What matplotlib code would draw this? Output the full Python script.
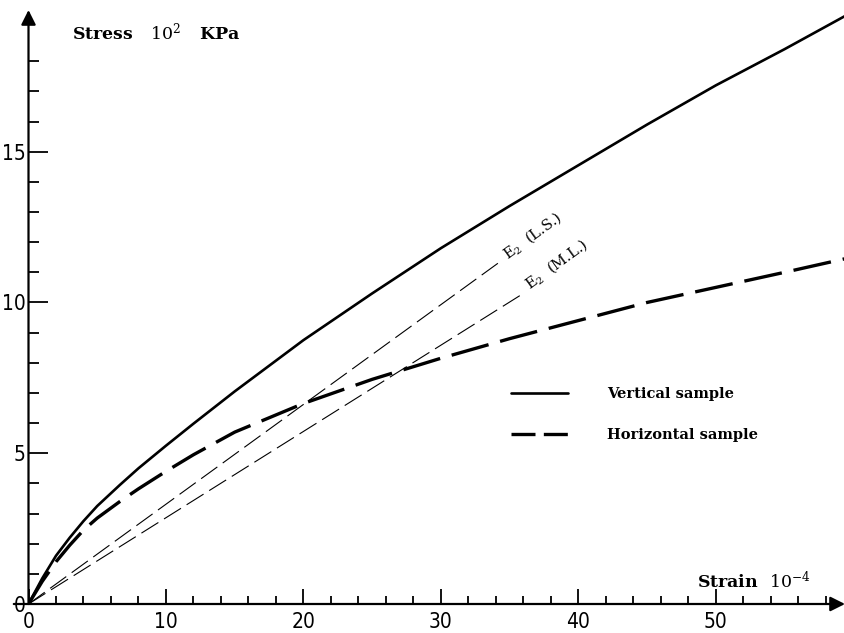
import matplotlib
matplotlib.use("Agg")
import matplotlib.pyplot as plt
import numpy as np

# strain (1e-4) and stress (1e2 kPa)
vert_strain = [0, 1, 2, 3, 4, 5, 6.65, 8, 10, 12, 15, 20, 25, 30, 35, 40, 45, 50, 55, 59.4]
vert_stress = [0, 0.85, 1.6, 2.2, 2.75, 3.25, 3.95, 4.5, 5.25, 5.98, 7.05, 8.75, 10.3, 11.8, 13.2, 14.55, 15.9, 17.2, 18.4, 19.5]

horiz_strain = [0, 1, 2, 3, 4, 5, 6.65, 8, 10, 12, 15, 20, 25, 30, 35, 40, 45, 50, 55, 59.4]
horiz_stress = [0, 0.75, 1.4, 1.95, 2.45, 2.85, 3.4, 3.82, 4.4, 4.95, 5.7, 6.65, 7.45, 8.15, 8.8, 9.4, 10.0, 10.5, 11.0, 11.45]

e2_ls = ([0, 34.3], [0, 11.35])
e2_ml = ([0, 36.0], [0, 10.3])

x_major = [0, 10, 20, 30, 40, 50]
y_major = [0, 5, 10, 15]

# regular-weight serif for the powers of ten inside bold labels
plt.rcParams["mathtext.fontset"] = "custom"
plt.rcParams["mathtext.rm"] = "DejaVu Serif"
plt.rcParams["mathtext.it"] = "DejaVu Serif:italic"

W, H = 845, 633
fig = plt.figure(figsize=(W / 100, H / 100), dpi=100)
x0, y0 = 28.5, 604
ax = fig.add_axes([x0 / W, (H - y0) / H, (W - x0) / W, (y0 - 10) / H])
ax.set_xlim(0, 59.4)
ax.set_ylim(0, 19.7)

ax.plot(vert_strain, vert_stress, color="k", lw=1.9, solid_capstyle="round")
ax.plot(horiz_strain, horiz_stress, color="k", lw=2.4, dashes=(11.5, 3.6))
ax.plot(*e2_ls, color="k", lw=0.8, dashes=(18, 6))
ax.plot(*e2_ml, color="k", lw=0.8, dashes=(18, 6))

# axes drawn as arrows
for s in ax.spines.values():
    s.set_visible(False)
arrow = dict(arrowstyle="-|>", lw=1.6, color="k", mutation_scale=22, shrinkA=0, shrinkB=0)
ax.annotate("", xy=(1.0, 0), xytext=(-0.018, 0), xycoords="axes fraction", arrowprops=arrow)
ax.annotate("", xy=(0, 1.0), xytext=(0, 0), xycoords="axes fraction", arrowprops=arrow)

tick_font = dict(family="DejaVu Sans", stretch="condensed", size=15)
ax.set_xticks(x_major)
ax.set_xticks(np.arange(2, 59, 2), minor=True)
ax.set_yticks(y_major)
ax.set_yticks(np.arange(1, 19, 1), minor=True)
ax.set_xticklabels([str(v) for v in x_major], fontdict=tick_font)
ax.set_yticklabels([str(v) for v in y_major], fontdict=tick_font)
ax.tick_params(axis="x", which="major", direction="in", length=11, width=1.3, pad=6)
ax.tick_params(axis="x", which="minor", direction="in", length=6, width=1.3)
ax.tick_params(axis="y", which="major", direction="in", length=14, width=1.3, pad=2)
ax.tick_params(axis="y", which="minor", direction="in", length=7, width=1.3)

serif = dict(family="DejaVu Serif", weight="bold", size=12.5)
ax.text(3.2, 18.95, r"Stress   $\mathrm{10^2}$   KPa", **serif, va="center")
ax.text(48.6, 0.75, r"Strain  $\mathrm{10^{-4}}$", **serif, va="center")

ax.text(35.0, 11.3, r"E$_\mathrm{2}$  (L.S.)", family="DejaVu Serif", size=10.5, rotation=36,
        rotation_mode="anchor", ha="left", va="bottom")
ax.text(36.6, 10.3, r"E$_\mathrm{2}$  (M.L.)", family="DejaVu Serif", size=10.5, rotation=36,
        rotation_mode="anchor", ha="left", va="bottom")

leg = ax.legend(["Vertical sample", "Horizontal sample"], loc="upper left",
                bbox_to_anchor=(0.575, 0.388), frameon=False, handlelength=3.9,
                handletextpad=2.7, labelspacing=1.85,
                prop=dict(family="DejaVu Serif", weight="bold", size=10.5))
leg.legend_handles[0].set_linestyle("-")
leg.legend_handles[1].set_dashes((7.2, 2.5))

fig.savefig("out.png", dpi=100, facecolor="white")
